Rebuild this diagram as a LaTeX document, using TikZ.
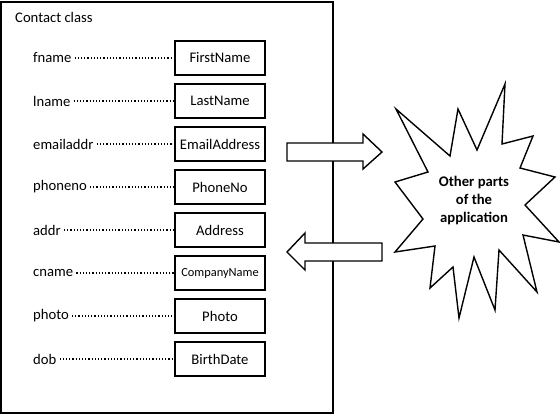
\documentclass[tikz,border=0pt]{standalone}
\usepackage{fontspec}
\setmainfont{Carlito}
\begin{document}
\begin{tikzpicture}[x=1pt,y=-1pt,
  fieldbox/.style={draw,line width=1.4pt,minimum width=90pt,minimum height=34pt,inner sep=0pt,font=\fontsize{14.67}{17}\selectfont},
  lbl/.style={anchor=west,inner xsep=3pt,inner ysep=0pt,font=\fontsize{14.67}{17}\selectfont},
  dotline/.style={line width=1.2pt,dotted},
  blockarrow/.style={draw,fill=white,line width=1.4pt,line join=miter}]
\useasboundingbox (0,0) rectangle (560,416);
\draw[line width=1.6pt] (1,2) rectangle (333,413);
\node[anchor=west,inner sep=0pt,font=\fontsize{14.67}{17}\selectfont] (title) at (15,17) {Contact class};
\foreach \lab/\fld/\cy [count=\i] in {fname/FirstName/58, lname/LastName/101, emailaddr/EmailAddress/144, phoneno/PhoneNo/187, addr/Address/230, cname/{\fontsize{12.4}{14}\selectfont CompanyName}/273, photo/Photo/316, dob/BirthDate/359}{
  \node[fieldbox] (f\i) at (220,\cy) {\fld};
  \node[lbl] (l\i) at (30,\cy) {\lab};
  \draw[dotline] (l\i.east) -- (f\i.west);
}
% block arrows
\draw[blockarrow] (287,143) -- (363,143) -- (363,134) -- (382,152) -- (363,169) -- (363,161) -- (287,161) -- cycle;
\draw[blockarrow] (382,243) -- (305,243) -- (305,233) -- (287,252) -- (305,270) -- (305,261) -- (382,261) -- cycle;
% starburst
\draw[line width=1.4pt,line join=miter,fill=white] (396,109) -- (450,156) -- (458,109) -- (477,150) -- (505,84) -- (502,144) -- (533,136) -- (520,168) -- (555,177) -- (525,205) -- (559,242) -- (523,235) -- (537,292) -- (499,250) -- (495,310) -- (474,257) -- (459,318) -- (453,267) -- (430,288) -- (435,246) -- (395,252) -- (423,219) -- (395,182) -- (428,172) -- cycle;
\node[align=center,font=\bfseries\fontsize{14.67}{18}\selectfont] (other) at (474,201) {Other parts\\of the\\application};
\end{tikzpicture}
\end{document}
